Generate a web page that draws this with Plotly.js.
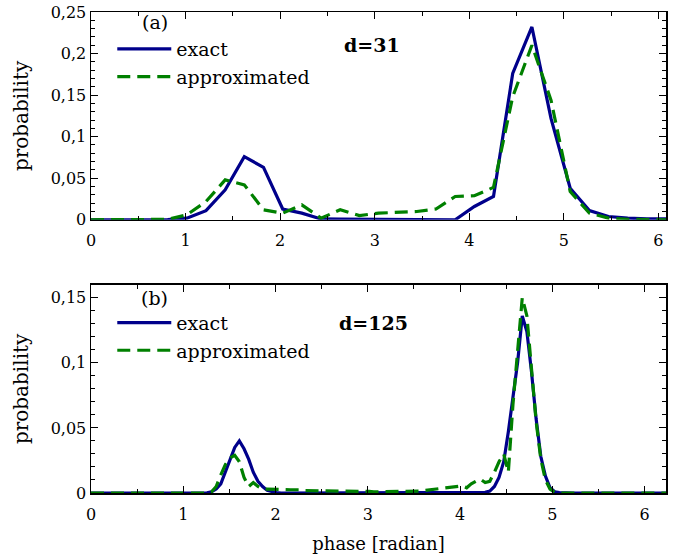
<!DOCTYPE html>
<html>
<head>
<meta charset="utf-8">
<script src="https://cdn.plot.ly/plotly-3.0.1.min.js"></script>
<style>html,body{margin:0;padding:0;background:#fff;}#chart{width:689px;height:559px;}</style>
</head>
<body>
<div id="chart"></div>
<script>
// ---- Panel (a): d = 31 ----
const phaseA = [0.000,0.203,0.405,0.608,0.811,1.013,1.216,1.419,1.621,1.824,2.027,2.229,2.432,2.635,2.838,3.040,3.243,3.446,3.648,3.851,4.054,4.256,4.459,4.662,4.864,5.067,5.270,5.472,5.675,5.878,6.080];
const exactA = [0,0,0,0,0.0003,0.002,0.011,0.036,0.076,0.063,0.013,0.008,0.001,0.0007,0.0007,0.0007,0.0007,0.0007,0.0007,0,0.016,0.028,0.176,0.232,0.122,0.038,0.011,0.004,0.002,0.001,0.001];
const approxA = [0,0,0,0,0.0005,0.006,0.022,0.048,0.042,0.012,0.008,0.018,0.002,0.012,0.005,0.008,0.009,0.010,0.013,0.028,0.029,0.039,0.148,0.210,0.144,0.034,0.008,0.002,0.0005,0,0];

// ---- Panel (b): d = 125 ----
const phaseB = [0.000,0.050,0.101,0.151,0.201,0.251,0.302,0.352,0.402,0.452,
0.503,0.553,0.603,0.653,0.704,0.754,0.804,0.855,0.905,0.955,
1.005,1.056,1.106,1.156,1.206,1.257,1.307,1.357,1.407,1.458,
1.508,1.558,1.608,1.659,1.709,1.759,1.810,1.860,1.910,1.960,
2.011,2.061,2.111,2.161,2.212,2.262,2.312,2.362,2.413,2.463,
2.513,2.564,2.614,2.664,2.714,2.765,2.815,2.865,2.915,2.966,
3.016,3.066,3.116,3.167,3.217,3.267,3.318,3.368,3.418,3.468,
3.519,3.569,3.619,3.669,3.720,3.770,3.820,3.870,3.921,3.971,
4.021,4.072,4.122,4.172,4.222,4.273,4.323,4.373,4.423,4.474,
4.524,4.574,4.624,4.675,4.725,4.775,4.825,4.876,4.926,4.976,
5.027,5.077,5.127,5.177,5.228,5.278,5.328,5.378,5.429,5.479,
5.529,5.580,5.630,5.680,5.730,5.781,5.831,5.881,5.931,5.982,
6.032,6.082,6.132,6.183,6.233];
const exactB = [0,0,0,0,0,0,0,0,0,0,
0,0,0,0,0,0,0,0,0,0,
0,0,0,0,0,0.0002,0.001,0.003,0.007,0.016,
0.026,0.035,0.040,0.034,0.026,0.016,0.009,0.005,0.002,0.001,
0.0003,0,0,0,0,0,0,0,0,0,
0,0,0,0,0,0,0,0,0,0,
0,0,0,0,0,0,0,0,0,0,
0,0,0,0,0,0,0,0,0,0,
0,0,0,0,0.0002,0.0005,0.0015,0.005,0.012,0.024,
0.047,0.074,0.100,0.136,0.124,0.093,0.057,0.028,0.013,0.004,
0.001,0.0003,0,0,0,0,0,0,0,0,
0,0,0,0,0,0,0,0,0,0,
0,0,0,0,0];
const approxB = [0,0,0,0,0,0,0,0,0,0,
0,0,0,0,0,0,0,0,0,0,
0,0,0,0,0,0,0.001,0.005,0.014,0.022,
0.027,0.029,0.024,0.012,0.005,0.008,0.005,0.003,0.003,0.0028,
0.0025,0.0025,0.0025,0.0025,0.0025,0.0025,0.0018,0.0018,0.0018,0.0018,
0.0018,0.0012,0.0012,0.0012,0.0012,0.0012,0.0012,0.0012,0.0012,0.0012,
0.0012,0.0009,0.0009,0.0009,0.0009,0.0009,0.0009,0.0009,0.0009,0.0009,
0.0012,0.0015,0.002,0.0025,0.003,0.0033,0.0037,0.004,0.0045,0.005,
0.0055,0.004,0.007,0.009,0.0106,0.008,0.009,0.016,0.024,0.030,
0.016,0.068,0.110,0.150,0.136,0.095,0.055,0.026,0.010,0.003,
0.0005,0,0,0,0,0,0,0,0,0,
0,0,0,0,0,0,0,0,0,0,
0,0,0,0,0];

const seriesNames = ['exact', 'approximated'];
const blue = '#00008b', green = '#008000';

const traces = [
  {x: phaseA, y: exactA, name: seriesNames[0], xaxis: 'x', yaxis: 'y', legend: 'legend', mode: 'lines', line: {color: blue, width: 3.2}},
  {x: phaseA, y: approxA, name: seriesNames[1], xaxis: 'x', yaxis: 'y', legend: 'legend', mode: 'lines', line: {color: green, width: 3.2, dash: '13px,7px'}},
  {x: phaseB, y: exactB, name: seriesNames[0], xaxis: 'x2', yaxis: 'y2', legend: 'legend2', mode: 'lines', line: {color: blue, width: 3.2}},
  {x: phaseB, y: approxB, name: seriesNames[1], xaxis: 'x2', yaxis: 'y2', legend: 'legend2', mode: 'lines', line: {color: green, width: 3.2, dash: '13px,7px'}}
];

const axCommon = {
  showline: true, linecolor: 'black', linewidth: 1.5, mirror: 'allticks',
  ticks: 'inside', ticklen: 7, tickwidth: 1, tickcolor: 'black',
  showgrid: false, zeroline: false,
  tickfont: {family: 'DejaVu Serif', size: 16, color: 'black'}
};
const minorX = {dtick: 0.5, ticks: 'inside', ticklen: 4, tickcolor: 'black', showgrid: false};
const minorY = {dtick: 0.01, ticks: 'inside', ticklen: 4, tickcolor: 'black', showgrid: false};
const titleFont = {family: 'DejaVu Serif', size: 20};

const layout = {
  width: 689, height: 559,
  margin: {l: 91, r: 23, t: 12, b: 65.5},
  paper_bgcolor: 'white', plot_bgcolor: 'white',
  separators: ', ',
  font: {family: 'DejaVu Serif', size: 19, color: 'black'},
  showlegend: true,
  xaxis: Object.assign({}, axCommon, {domain: [0, 1], anchor: 'y', range: [0, 6.08], dtick: 1, tick0: 0,
    ticklabelstandoff: 6, minor: minorX}),
  yaxis: Object.assign({}, axCommon, {domain: [0.568, 1], anchor: 'x', range: [0, 0.25], dtick: 0.05, tick0: 0,
    minor: minorY, title: {text: 'probability', font: titleFont, standoff: 16}}),
  xaxis2: Object.assign({}, axCommon, {domain: [0, 1], anchor: 'y2', range: [0, 6.233], dtick: 1, tick0: 0,
    ticklabelstandoff: 6, minor: minorX,
    title: {text: 'phase [radian]', font: {family: 'DejaVu Serif', size: 18}, standoff: 14}}),
  yaxis2: Object.assign({}, axCommon, {domain: [0, 0.433], anchor: 'x2', range: [0, 0.16], dtick: 0.05, tick0: 0,
    minor: minorY, title: {text: 'probability', font: titleFont, standoff: 16}}),
  legend: {x: 0.037, y: 0.9626, xanchor: 'left', yanchor: 'top', bgcolor: 'rgba(0,0,0,0)', borderwidth: 0,
    font: {family: 'DejaVu Serif', size: 19}, itemwidth: 54, tracegroupgap: 0},
  legend2: {x: 0.037, y: 0.3936, xanchor: 'left', yanchor: 'top', bgcolor: 'rgba(0,0,0,0)', borderwidth: 0,
    font: {family: 'DejaVu Serif', size: 19}, itemwidth: 54, tracegroupgap: 0},
  annotations: [
    {text: '(a)', xref: 'paper', yref: 'paper', x: 0.111, y: 0.979, xanchor: 'center', yanchor: 'middle', showarrow: false, font: {size: 19}},
    {text: '<b>d=31</b>', xref: 'paper', yref: 'paper', x: 0.489, y: 0.931, xanchor: 'center', yanchor: 'middle', showarrow: false, font: {size: 19}},
    {text: '(b)', xref: 'paper', yref: 'paper', x: 0.111, y: 0.406, xanchor: 'center', yanchor: 'middle', showarrow: false, font: {size: 19}},
    {text: '<b>d=125</b>', xref: 'paper', yref: 'paper', x: 0.492, y: 0.354, xanchor: 'center', yanchor: 'middle', showarrow: false, font: {size: 19}}
  ]
};

Plotly.newPlot('chart', traces, layout, {displayModeBar: false, staticPlot: true});
</script>
</body>
</html>
